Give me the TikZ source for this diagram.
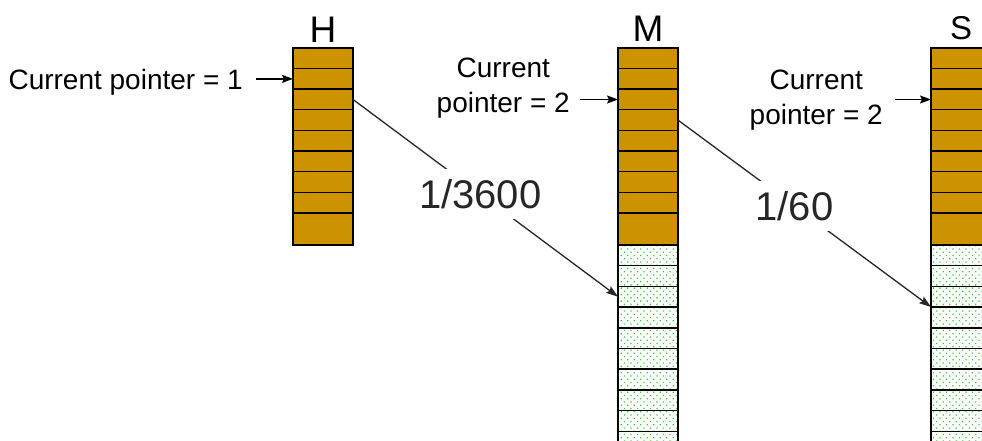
\documentclass[tikz,border=0pt]{standalone}
\usepackage{fontspec}
\setmainfont{Liberation Sans}
\usetikzlibrary{arrows.meta,positioning,patterns.meta}
\definecolor{slotbrown}{RGB}{204,146,0}
\definecolor{slotdot}{RGB}{60,200,60}

\begin{document}
\begin{tikzpicture}[
  x=1pt,y=-1pt,
  cell/.style={draw=black,line width=1.4pt,minimum width=60pt,minimum height=20.6pt,
               inner sep=0pt,outer sep=0pt,anchor=north west},
  used/.style={cell,fill=slotbrown},
  free/.style={cell,pattern={Dots[distance=4.6pt,radius=0.9pt,angle=45]},pattern color=slotdot},
  colname/.style={font=\fontsize{37}{40}\selectfont,inner sep=0pt},
  ptrtext/.style={font=\fontsize{28}{35}\selectfont,align=center,inner sep=0pt},
  ptrarr/.style={-{Stealth[length=11pt,width=8pt,inset=2pt]},line width=1.4pt,shorten <=13pt},
  rate/.style={font=\fontsize{40}{46}\selectfont,fill=white,inner sep=10pt},
  jump/.style={-{Stealth[length=12pt,width=8pt,inset=2pt]},line width=1.3pt,black!85},
]
\useasboundingbox (0,0) rectangle (982,441);
\clip (0,0) rectangle (982,441);
% ----- slot columns: 8 short slots and a taller last one in use
\foreach \c/\x in {H/293,M/618,S/931}{
  \foreach \k in {1,...,8}
    \node[used] (\c\k) at (\x,{48+20.6*(\k-1)}) {};
  \node[used,minimum height=32pt] (\c9) at (\x,213) {};
}
% ----- free slots below M and S
\foreach \c/\x in {M/618,S/931}
  \foreach \k in {10,...,19}
    \node[free] (\c\k) at (\x,{245+20.7*(\k-10)}) {};
% ----- column names
\node[colname,above=5pt of H1] (hname) {H};
\node[colname,above=6pt of M1] (mname) {M};
\node[colname,font=\fontsize{33}{36}\selectfont,above=8pt of S1] (sname) {S};
% ----- current pointers
\node[ptrtext,anchor=base east] (ptrH) at (243,90) {Current pointer = 1};
\node[ptrtext,anchor=east] (ptrM) at (570,88.5) {Current\\pointer = 2};
\node[ptrtext,anchor=east] (ptrS) at (883,100.5) {Current\\pointer = 2};
\draw[ptrarr] (ptrH.east |- H2.west) -- (H2.west);
\draw[ptrarr,shorten <=10pt] (ptrM.east |- M3.west) -- (M3.west);
\draw[ptrarr,shorten <=12pt] (ptrS.east |- S3.west) -- (S3.west);
% ----- carries
\draw[jump] (H3.east) -- node[rate,pos=0.48]{1/3600} (M12.west);
\draw[jump] (M4.east) -- node[rate,pos=0.46]{1/60} (S12.south west);
\end{tikzpicture}
\end{document}
